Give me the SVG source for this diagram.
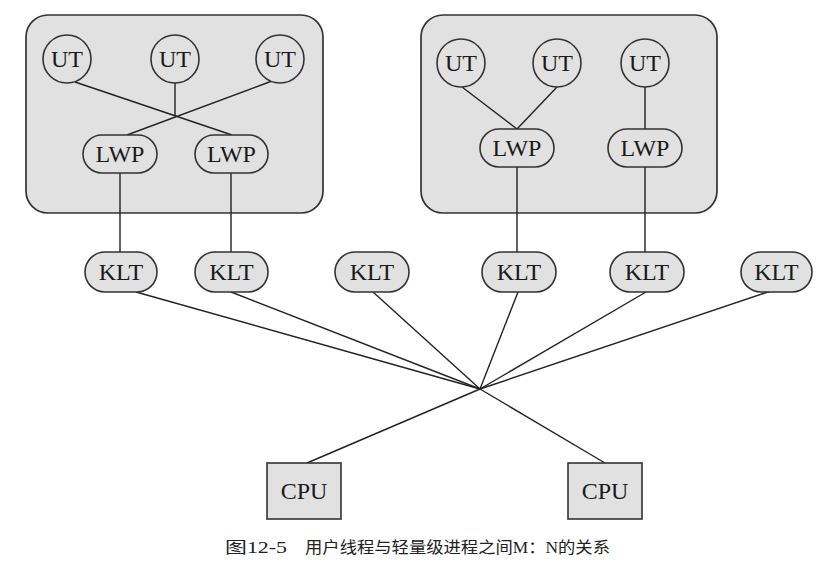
<svg xmlns="http://www.w3.org/2000/svg" width="837" height="576" viewBox="0 0 837 576">
<style>
.box{fill:#e1e1e1;stroke:#333333;stroke-width:1.7}
.nd{fill:#e1e1e1;stroke:#333333;stroke-width:1.6}
.lbl{font-size:24px;fill:#1a1a1a;text-anchor:middle;dominant-baseline:central}
.ln{stroke:#222222;stroke-width:1.4;fill:none}
.cap{font-size:16px;fill:#222}
</style>
<rect width="837" height="576" fill="#ffffff"/>
<g id="process1"><rect class="box" x="26" y="15" width="297" height="198" rx="22"/></g>
<g id="process2"><rect class="box" x="421" y="15" width="296" height="198" rx="22"/></g>
<g id="connectors">
<line class="ln" x1="75" y1="82" x2="232" y2="135"/>
<line class="ln" x1="272" y1="81" x2="127" y2="135"/>
<line class="ln" x1="175" y1="83" x2="175" y2="116"/>
<line class="ln" x1="120" y1="173" x2="120" y2="252"/>
<line class="ln" x1="231" y1="173" x2="231" y2="252"/>
<line class="ln" x1="462" y1="87" x2="517" y2="129"/>
<line class="ln" x1="557" y1="87" x2="517" y2="129"/>
<line class="ln" x1="645" y1="87" x2="645" y2="129"/>
<line class="ln" x1="517" y1="167" x2="517" y2="252"/>
<line class="ln" x1="645" y1="167" x2="645" y2="252"/>
<line class="ln" x1="136" y1="292" x2="480" y2="389"/>
<line class="ln" x1="231" y1="292" x2="480" y2="389"/>
<line class="ln" x1="373" y1="292" x2="480" y2="389"/>
<line class="ln" x1="518" y1="292" x2="480" y2="389"/>
<line class="ln" x1="646" y1="292" x2="480" y2="389"/>
<line class="ln" x1="771" y1="291" x2="480" y2="389"/>
<line class="ln" x1="480" y1="389" x2="307" y2="463"/>
<line class="ln" x1="480" y1="389" x2="605" y2="463"/>
</g>
<g font-family="'Liberation Serif', Tinos, 'Times New Roman', serif">
<g id="ut1"><circle class="nd" cx="67" cy="59" r="24"/><text class="lbl" x="67" y="59">UT</text></g>
<g id="ut2"><circle class="nd" cx="175" cy="59" r="24"/><text class="lbl" x="175" y="59">UT</text></g>
<g id="ut3"><circle class="nd" cx="280" cy="59" r="24"/><text class="lbl" x="280" y="59">UT</text></g>
<g id="lwp1"><rect class="nd" x="83" y="135" width="74" height="38" rx="19"/><text class="lbl" x="120" y="154">LWP</text></g>
<g id="lwp2"><rect class="nd" x="195" y="135" width="73" height="38" rx="19"/><text class="lbl" x="231.5" y="154">LWP</text></g>
<g id="ut4"><circle class="nd" cx="461" cy="63" r="24"/><text class="lbl" x="461" y="63">UT</text></g>
<g id="ut5"><circle class="nd" cx="557" cy="63" r="24"/><text class="lbl" x="557" y="63">UT</text></g>
<g id="ut6"><circle class="nd" cx="645" cy="63" r="24"/><text class="lbl" x="645" y="63">UT</text></g>
<g id="lwp3"><rect class="nd" x="480" y="129" width="74" height="38" rx="19"/><text class="lbl" x="517" y="148">LWP</text></g>
<g id="lwp4"><rect class="nd" x="608" y="129" width="74" height="38" rx="19"/><text class="lbl" x="645" y="148">LWP</text></g>
<g id="klt1"><rect class="nd" x="85" y="252" width="72" height="40" rx="20"/><text class="lbl" x="121" y="272">KLT</text></g>
<g id="klt2"><rect class="nd" x="195" y="252" width="73" height="40" rx="20"/><text class="lbl" x="231.5" y="272">KLT</text></g>
<g id="klt3"><rect class="nd" x="335" y="252" width="74" height="40" rx="20"/><text class="lbl" x="372" y="272">KLT</text></g>
<g id="klt4"><rect class="nd" x="482" y="252" width="74" height="40" rx="20"/><text class="lbl" x="519" y="272">KLT</text></g>
<g id="klt5"><rect class="nd" x="610" y="252" width="74" height="40" rx="20"/><text class="lbl" x="647" y="272">KLT</text></g>
<g id="klt6"><rect class="nd" x="741" y="252" width="71" height="40" rx="20"/><text class="lbl" x="776.5" y="272">KLT</text></g>
<g id="cpu1"><rect class="nd" x="267" y="463" width="74" height="56"/><text class="lbl" x="304" y="491">CPU</text></g>
<g id="cpu2"><rect class="nd" x="568" y="463" width="74" height="56"/><text class="lbl" x="605" y="491">CPU</text></g>
</g>
<g id="caption" font-family="'Liberation Serif', 'Noto Sans CJK SC', serif">
<text class="cap" x="225" y="553" textLength="62" lengthAdjust="spacingAndGlyphs">图12-5</text>
<text class="cap" x="305" y="553" textLength="305" lengthAdjust="spacingAndGlyphs">用户线程与轻量级进程之间M：N的关系</text>
</g>
</svg>
